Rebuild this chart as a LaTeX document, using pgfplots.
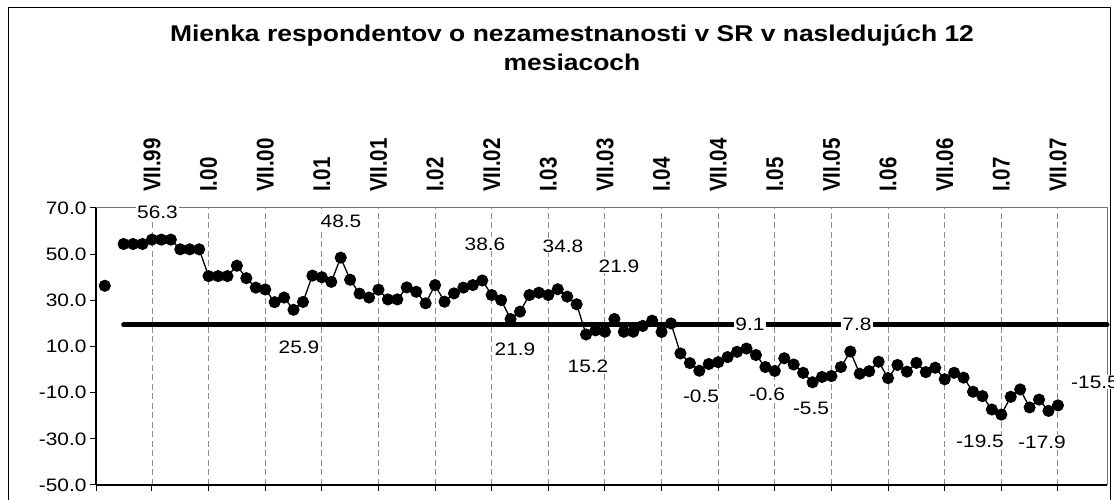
\documentclass[border=0pt]{standalone}
\usepackage{fontspec}
\setmainfont{Liberation Sans}[FakeStretch=1.16]
\newfontfamily\rotfont{Liberation Sans}
\usepackage{graphicx}
\usepackage{pgfplots}
\pgfplotsset{compat=1.18}
\pgfplotstableread{
x y
-5 36.3
-4 nan
-3 54.4
-2 54.4
-1 54.4
0 56.3
1 56.3
2 56.3
3 52.1
4 52.1
5 52.1
6 40.5
7 40.5
8 40.5
9 45.0
10 39.6
11 35.5
12 34.7
13 29.2
14 31.2
15 25.9
16 29.3
17 40.7
18 40.0
19 38.0
20 48.5
21 38.9
22 32.9
23 31.2
24 34.6
25 30.4
26 30.4
27 35.6
28 33.7
29 28.7
30 36.6
31 29.4
32 33.0
33 35.5
34 36.6
35 38.6
36 32.3
37 30.1
38 21.9
39 25.1
40 32.3
41 33.3
42 32.3
43 34.8
44 31.6
45 28.3
46 15.2
47 17.0
48 16.4
49 21.9
50 16.4
51 16.4
52 18.9
53 21.2
54 16.3
55 20.0
56 7.0
57 2.8
58 -0.5
59 2.4
60 3.2
61 5.4
62 7.7
63 9.1
64 6.3
65 1.1
66 -0.6
67 4.9
68 2.2
69 -1.4
70 -5.5
71 -3.2
72 -2.8
73 1.1
74 7.8
75 -1.8
76 -0.7
77 3.4
78 -3.7
79 2.0
80 -0.9
81 2.9
82 -1.1
83 0.8
84 -4.2
85 -1.4
86 -3.5
87 -9.6
88 -11.5
89 -17.3
90 -19.5
91 -11.8
92 -8.6
93 -16.4
94 -13.0
95 -17.9
96 -15.5
}\opinion
\pgfplotstableread{
x y
-3 19.4
101.2 19.4
}\refline
\begin{document}
\begin{tikzpicture}[x=1pt,y=1pt]
\useasboundingbox (0,0) rectangle (1114,500);
\draw[black, line width=1pt] (8,-10) -- (8,492) -- (1110,492) -- (1110,-10);
\begin{axis}[
  at={(96pt,15pt)}, anchor=south west,
  scale only axis, width=1011pt, height=277pt,
  xmin=-5.93, xmax=101.2, ymin=-50, ymax=70,
  axis lines*=left,
  axis line style={black, line width=1.2pt},
  xtick={0,6,...,96}, xticklabels={},
  extra x ticks={-5.93}, extra x tick labels={}, extra x tick style={grid=none},
  ytick={-50,-30,-10,10,30,50,70},
  yticklabels={-50.0,-30.0,-10.0,10.0,30.0,50.0,70.0},
  tick align=outside, major tick length=6pt,
  tick style={black, line width=1pt},
  xmajorgrids, major x grid style={black!45, line width=0.9pt, dash pattern=on 6pt off 3.5pt},
  yticklabel style={font=\fontsize{18}{20}\selectfont, text=black},
  clip=false,
  unbounded coords=jump,
]
\draw[black!55, line width=1pt] (rel axis cs:0,1) -- (rel axis cs:1,1) -- (rel axis cs:1,0);
\addplot[black, line width=5pt, line cap=round] table {\refline};
\addplot[black, line width=1.3pt, mark=*, mark size=5.4pt] table {\opinion};
\end{axis}
\tikzset{dl/.style={fill=white, inner sep=1pt, font=\fontsize{18}{20}\selectfont}}
\node[dl] at (157.5,288) {56.3};
\node[dl] at (341,279) {48.5};
\node[dl] at (299,153) {25.9};
\node[dl] at (485,256) {38.6};
\node[dl] at (563,254) {34.8};
\node[dl] at (619,234) {21.9};
\node[dl] at (515,151) {21.9};
\node[dl] at (588,134) {15.2};
\node[dl] at (701,104) {-0.5};
\node[dl] at (750,176) {9.1};
\node[dl] at (857,176) {7.8};
\node[dl] at (767,106) {-0.6};
\node[dl] at (811,92) {-5.5};
\node[dl] at (980,59) {-19.5};
\node[dl] at (1042,58) {-17.9};
\node[dl] at (1095,118) {-15.5};
\foreach \k/\lab in {0/VII.99,1/I.00,2/VII.00,3/I.01,4/VII.01,5/I.02,6/VII.02,7/I.03,8/VII.03,9/I.04,10/VII.04,11/I.05,12/VII.05,13/I.06,14/VII.06,15/I.07,16/VII.07}
  \node[rotate=90, anchor=west, inner sep=0pt] at ({152+\k*56.625},308) {\scalebox{1}[1.18]{\rotfont\bfseries\fontsize{20.5}{20}\selectfont \lab}};
\node[align=center, font=\bfseries\fontsize{22.8}{29}\selectfont] at (572,452.5) {Mienka respondentov o nezamestnanosti v SR v nasledujúch 12\\mesiacoch};
\end{tikzpicture}
\end{document}
